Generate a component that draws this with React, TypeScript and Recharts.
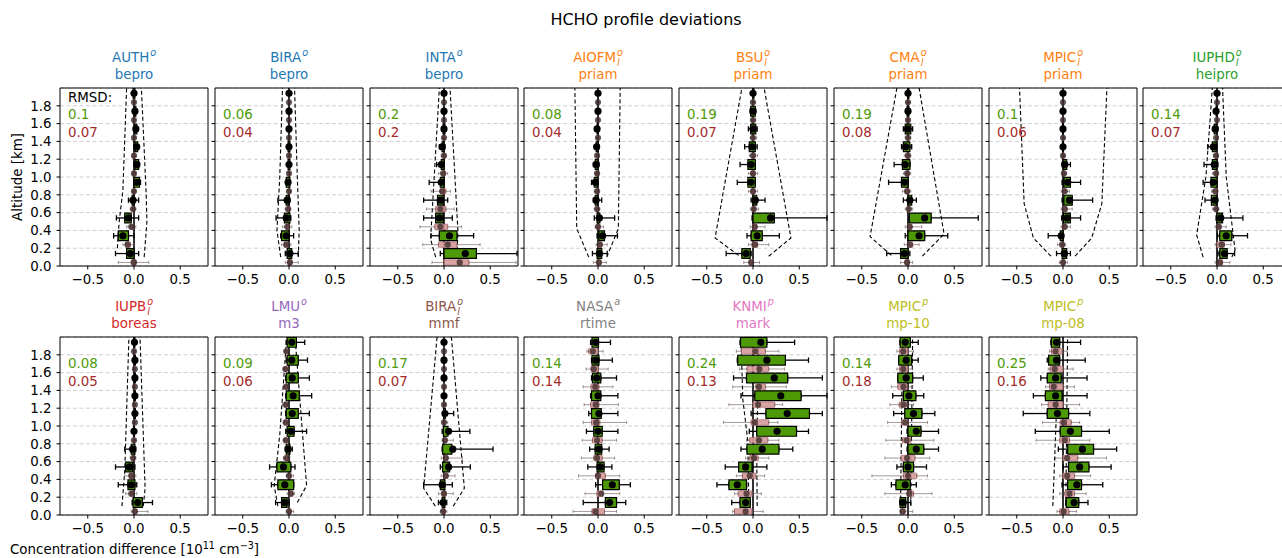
import React from "react";
import {
  ComposedChart,
  XAxis,
  YAxis,
  CartesianGrid,
  Scatter,
  ErrorBar,
  ReferenceArea,
  ReferenceLine,
} from "recharts";

// one box per altitude bin: [whisker low, q1, mean, q3, whisker high]
type Box = [number, number, number, number, number];
// envelope vertex: [altitude km, concentration difference]
type Vertex = [number, number];

const BIN_ALT = [0.1, 0.3, 0.5, 0.7, 0.9, 1.1, 1.3, 1.5, 1.7, 1.9];
const X_TICKS = [-0.5, 0, 0.5];
const Y_TICKS = [0, 0.2, 0.4, 0.6, 0.8, 1.0, 1.2, 1.4, 1.6, 1.8];

// ---- AUTH / bepro
const authGreen: Box[] = [
  [-0.2, -0.08, -0.04, 0.0, 0.05],
  [-0.22, -0.17, -0.12, -0.06, 0.0],
  [-0.19, -0.1, -0.06, -0.03, 0.05],
  [-0.06, -0.02, -0.01, 0.0, 0.05],
  [0.0, 0.0, 0.03, 0.06, 0.07],
  [0.0, 0.01, 0.03, 0.05, 0.06],
  [0.0, 0.01, 0.03, 0.04, 0.05],
  [0.0, 0.01, 0.02, 0.03, 0.04],
  [0.0, 0.0, 0.01, 0.02, 0.03],
  [-0.01, -0.01, 0.0, 0.01, 0.02],
];
const authPink: Box[] = [
  [-0.17, -0.03, 0.0, 0.02, 0.16],
  [-0.12, -0.09, -0.07, -0.04, 0.0],
  [-0.08, -0.04, -0.03, -0.01, 0.02],
  [-0.04, -0.02, -0.01, 0.0, 0.02],
  [-0.02, -0.01, 0.0, 0.01, 0.02],
  [-0.02, -0.01, 0.0, 0.01, 0.02],
  [-0.01, -0.01, 0.0, 0.01, 0.02],
  [-0.01, 0.0, 0.0, 0.01, 0.02],
  [-0.01, 0.0, 0.0, 0.01, 0.01],
  [-0.01, 0.0, 0.0, 0.01, 0.01],
];
const authLeft: Vertex[] = [[0.2, -0.18], [0.5, -0.16], [0.85, -0.12], [2.0, -0.08]];
const authRight: Vertex[] = [[0.1, 0.11], [0.5, 0.14], [0.85, 0.13], [2.0, 0.08]];

// ---- BIRA / bepro
const biraGreen: Box[] = [
  [-0.04, -0.02, 0.01, 0.03, 0.1],
  [-0.09, -0.08, -0.03, 0.0, 0.05],
  [-0.14, -0.05, -0.03, 0.01, 0.02],
  [-0.12, -0.03, -0.02, 0.0, 0.01],
  [-0.03, -0.03, -0.01, 0.01, 0.01],
  [-0.01, -0.01, 0.0, 0.01, 0.01],
  [-0.01, -0.01, 0.0, 0.01, 0.01],
  [-0.01, 0.0, 0.0, 0.0, 0.01],
  [-0.01, 0.0, 0.0, 0.0, 0.01],
  [-0.01, 0.0, 0.0, 0.0, 0.01],
];
const biraPink: Box[] = [
  [-0.04, -0.01, 0.01, 0.03, 0.1],
  [-0.08, -0.05, -0.03, -0.01, 0.02],
  [-0.07, -0.03, -0.02, 0.0, 0.03],
  [-0.04, -0.02, -0.01, 0.01, 0.02],
  [-0.02, -0.01, 0.0, 0.01, 0.02],
  [-0.01, -0.01, 0.0, 0.01, 0.01],
  [-0.01, -0.01, 0.0, 0.01, 0.01],
  [-0.01, 0.0, 0.0, 0.0, 0.01],
  [-0.01, 0.0, 0.0, 0.0, 0.01],
  [-0.01, 0.0, 0.0, 0.0, 0.01],
];
const biraLeft: Vertex[] = [[0.1, -0.09], [0.4, -0.13], [1.0, -0.1], [2.0, -0.07]];
const biraRight: Vertex[] = [[0.1, 0.1], [0.4, 0.11], [1.0, 0.09], [2.0, 0.06]];

// ---- INTA / bepro
const intaGreen: Box[] = [
  [-0.04, 0.0, 0.23, 0.35, 0.79],
  [-0.14, -0.05, 0.06, 0.14, 0.32],
  [-0.22, -0.09, -0.05, -0.01, 0.09],
  [-0.22, -0.07, -0.04, -0.01, 0.04],
  [-0.16, -0.04, -0.03, 0.0, 0.0],
  [-0.08, -0.03, -0.03, 0.0, 0.0],
  [-0.05, -0.02, -0.02, 0.0, 0.01],
  [-0.02, -0.01, 0.0, 0.01, 0.01],
  [-0.01, 0.0, 0.0, 0.0, 0.01],
  [-0.01, 0.0, 0.0, 0.0, 0.01],
];
const intaPink: Box[] = [
  [-0.13, 0.0, 0.17, 0.27, 0.78],
  [-0.23, -0.06, 0.04, 0.14, 0.39],
  [-0.26, -0.1, -0.04, 0.04, 0.19],
  [-0.19, -0.09, -0.04, 0.02, 0.11],
  [-0.14, -0.04, -0.02, 0.02, 0.07],
  [-0.06, -0.02, -0.01, 0.01, 0.04],
  [-0.03, -0.01, 0.0, 0.01, 0.02],
  [-0.02, -0.01, 0.0, 0.01, 0.01],
  [-0.01, 0.0, 0.0, 0.0, 0.01],
  [-0.01, 0.0, 0.0, 0.0, 0.01],
];
const intaLeft: Vertex[] = [[0.1, -0.09], [0.3, -0.145], [2.0, -0.05]];
const intaRight: Vertex[] = [[0.1, 0.14], [0.4, 0.15], [2.0, 0.065]];

// ---- AIOFM / priam
const aiofmGreen: Box[] = [
  [-0.06, -0.01, 0.015, 0.04, 0.1],
  [-0.01, 0.01, 0.05, 0.07, 0.21],
  [-0.04, -0.01, 0.015, 0.02, 0.18],
  [-0.05, -0.03, -0.02, 0.0, 0.04],
  [-0.07, -0.04, -0.03, -0.01, 0.0],
  [-0.05, -0.03, -0.02, 0.0, 0.01],
  [-0.03, -0.02, -0.015, 0.0, 0.01],
  [-0.02, -0.01, -0.01, 0.0, 0.01],
  [-0.01, 0.0, 0.0, 0.0, 0.01],
  [-0.01, 0.0, 0.0, 0.0, 0.01],
];
const aiofmPink: Box[] = [
  [-0.05, -0.01, 0.01, 0.03, 0.09],
  [-0.02, 0.0, 0.02, 0.04, 0.1],
  [-0.03, -0.01, 0.0, 0.02, 0.06],
  [-0.04, -0.02, -0.01, 0.0, 0.02],
  [-0.04, -0.02, -0.01, 0.0, 0.01],
  [-0.03, -0.02, -0.01, 0.0, 0.01],
  [-0.02, -0.01, -0.01, 0.0, 0.01],
  [-0.02, -0.01, 0.0, 0.0, 0.01],
  [-0.01, 0.0, 0.0, 0.0, 0.01],
  [-0.01, 0.0, 0.0, 0.0, 0.01],
];
const aiofmLeft: Vertex[] = [[0.1, -0.1], [0.42, -0.23], [2.0, -0.25]];
const aiofmRight: Vertex[] = [[0.1, 0.095], [0.42, 0.22], [2.0, 0.24]];

// ---- BSU / priam
const bsuGreen: Box[] = [
  [-0.29, -0.12, -0.075, -0.03, -0.02],
  [-0.065, -0.02, 0.045, 0.1, 0.285],
  [-0.01, 0.0, 0.19, 0.23, 0.8],
  [-0.02, 0.0, 0.025, 0.04, 0.13],
  [-0.17, -0.055, -0.02, 0.025, 0.025],
  [-0.14, -0.055, -0.02, 0.025, 0.025],
  [-0.09, -0.04, -0.01, 0.025, 0.045],
  [-0.05, -0.025, 0.0, 0.03, 0.045],
  [-0.03, -0.025, 0.0, 0.025, 0.03],
  [-0.01, 0.0, 0.0, 0.01, 0.01],
];
const bsuPink: Box[] = [
  [-0.1, -0.04, -0.02, 0.0, 0.07],
  [-0.05, -0.01, 0.02, 0.05, 0.17],
  [-0.03, 0.0, 0.02, 0.04, 0.13],
  [-0.03, -0.01, 0.01, 0.02, 0.06],
  [-0.05, -0.02, 0.0, 0.02, 0.05],
  [-0.05, -0.02, 0.0, 0.02, 0.05],
  [-0.04, -0.01, 0.0, 0.02, 0.05],
  [-0.03, -0.01, 0.0, 0.01, 0.04],
  [-0.02, -0.01, 0.0, 0.01, 0.03],
  [-0.02, 0.0, 0.0, 0.01, 0.02],
];
const bsuLeft: Vertex[] = [[0.12, -0.155], [0.315, -0.41], [2.0, -0.12]];
const bsuRight: Vertex[] = [[0.11, 0.17], [0.315, 0.41], [2.0, 0.12]];

// ---- CMA / priam
const cmaGreen: Box[] = [
  [-0.23, -0.08, -0.04, 0.0, 0.02],
  [-0.03, 0.0, 0.12, 0.18, 0.43],
  [0.015, 0.015, 0.18, 0.25, 0.76],
  [-0.05, 0.0, 0.02, 0.04, 0.09],
  [-0.21, -0.07, -0.04, 0.0, 0.0],
  [-0.15, -0.06, -0.03, 0.02, 0.02],
  [-0.07, -0.05, -0.025, 0.02, 0.04],
  [-0.05, -0.03, -0.005, 0.03, 0.05],
  [-0.02, -0.01, 0.0, 0.01, 0.02],
  [-0.01, 0.0, 0.0, 0.01, 0.01],
];
const cmaPink: Box[] = [
  [-0.08, -0.03, -0.01, 0.01, 0.05],
  [-0.04, 0.0, 0.02, 0.05, 0.12],
  [-0.03, 0.0, 0.02, 0.04, 0.15],
  [-0.03, -0.01, 0.01, 0.02, 0.05],
  [-0.06, -0.03, -0.01, 0.01, 0.03],
  [-0.05, -0.02, -0.01, 0.01, 0.03],
  [-0.04, -0.02, 0.0, 0.01, 0.03],
  [-0.03, -0.01, 0.0, 0.01, 0.03],
  [-0.02, -0.01, 0.0, 0.01, 0.02],
  [-0.02, 0.0, 0.0, 0.01, 0.02],
];
const cmaLeft: Vertex[] = [[0.12, -0.18], [0.33, -0.41], [2.0, -0.12]];
const cmaRight: Vertex[] = [[0.11, 0.155], [0.36, 0.39], [2.0, 0.12]];

// ---- MPIC / priam
const mpicGreen: Box[] = [
  [-0.07, -0.01, 0.015, 0.04, 0.08],
  [-0.16, -0.03, -0.02, 0.0, 0.005],
  [-0.015, 0.005, 0.045, 0.08, 0.19],
  [-0.01, 0.01, 0.07, 0.1, 0.32],
  [-0.01, 0.01, 0.05, 0.08, 0.19],
  [-0.01, 0.0, 0.02, 0.04, 0.08],
  [-0.01, -0.005, 0.0, 0.005, 0.01],
  [-0.01, -0.005, 0.0, 0.005, 0.01],
  [-0.01, 0.0, 0.0, 0.0, 0.01],
  [-0.01, 0.0, 0.0, 0.0, 0.01],
];
const mpicPink: Box[] = [
  [-0.04, -0.01, 0.0, 0.02, 0.05],
  [-0.06, -0.02, -0.01, 0.01, 0.03],
  [-0.02, 0.0, 0.02, 0.03, 0.08],
  [-0.02, 0.0, 0.02, 0.04, 0.1],
  [-0.02, 0.0, 0.02, 0.03, 0.07],
  [-0.01, 0.0, 0.01, 0.02, 0.04],
  [-0.01, 0.0, 0.0, 0.01, 0.02],
  [-0.01, 0.0, 0.0, 0.01, 0.02],
  [-0.01, 0.0, 0.0, 0.0, 0.01],
  [-0.01, 0.0, 0.0, 0.0, 0.01],
];
const mpicLeft: Vertex[] = [[0.11, -0.13], [0.315, -0.32], [0.7, -0.42], [2.0, -0.47]];
const mpicRight: Vertex[] = [[0.11, 0.13], [0.315, 0.31], [0.7, 0.42], [2.0, 0.475]];

// ---- IUPHD / heipro
const iuphdGreen: Box[] = [
  [0.01, 0.03, 0.08, 0.11, 0.19],
  [0.005, 0.03, 0.1, 0.16, 0.33],
  [-0.01, 0.0, 0.04, 0.06, 0.28],
  [-0.13, -0.06, -0.02, 0.0, 0.0],
  [-0.15, -0.065, -0.04, 0.0, 0.0],
  [-0.14, -0.05, -0.03, 0.0, 0.01],
  [-0.1, -0.05, -0.04, -0.01, 0.0],
  [-0.04, -0.03, -0.02, 0.0, 0.01],
  [-0.02, -0.01, -0.01, 0.0, 0.0],
  [-0.01, 0.0, 0.0, 0.0, 0.01],
];
const iuphdPink: Box[] = [
  [-0.02, 0.01, 0.03, 0.06, 0.14],
  [-0.02, 0.0, 0.05, 0.08, 0.15],
  [-0.02, 0.0, 0.02, 0.04, 0.1],
  [-0.05, -0.02, -0.01, 0.0, 0.02],
  [-0.06, -0.03, -0.02, 0.0, 0.01],
  [-0.05, -0.02, -0.01, 0.0, 0.01],
  [-0.04, -0.02, -0.01, 0.0, 0.01],
  [-0.02, -0.01, -0.01, 0.0, 0.01],
  [-0.01, -0.01, 0.0, 0.0, 0.01],
  [-0.01, 0.0, 0.0, 0.0, 0.01],
];
const iuphdLeft: Vertex[] = [[0.1, -0.15], [0.35, -0.22], [1.0, -0.12], [2.0, -0.05]];
const iuphdRight: Vertex[] = [[0.1, 0.16], [0.18, 0.195], [1.0, 0.1], [2.0, 0.06]];

// ---- IUPB / boreas
const iupbGreen: Box[] = [
  [-0.02, -0.01, 0.04, 0.09, 0.2],
  [-0.17, -0.065, -0.03, 0.01, 0.03],
  [-0.2, -0.09, -0.05, -0.015, 0.01],
  [-0.1, -0.03, -0.015, 0.01, 0.02],
  [-0.01, -0.005, 0.0, 0.005, 0.01],
  [0.0, 0.005, 0.01, 0.015, 0.02],
  [0.0, 0.005, 0.01, 0.015, 0.02],
  [0.0, 0.005, 0.01, 0.015, 0.02],
  [0.0, 0.005, 0.01, 0.015, 0.02],
  [0.0, 0.0, 0.005, 0.01, 0.02],
];
const iupbPink: Box[] = [
  [-0.03, 0.0, 0.01, 0.03, 0.15],
  [-0.09, -0.04, -0.03, -0.01, 0.03],
  [-0.1, -0.05, -0.03, -0.01, 0.02],
  [-0.04, -0.02, -0.01, 0.0, 0.02],
  [-0.02, -0.01, 0.0, 0.01, 0.02],
  [-0.01, 0.0, 0.01, 0.01, 0.02],
  [-0.01, 0.0, 0.01, 0.01, 0.02],
  [-0.01, 0.0, 0.01, 0.01, 0.02],
  [-0.01, 0.0, 0.01, 0.01, 0.02],
  [-0.01, 0.0, 0.0, 0.01, 0.02],
];
const iupbLeft: Vertex[] = [[0.1, -0.13], [0.5, -0.1], [2.0, -0.055]];
const iupbRight: Vertex[] = [[0.1, 0.1], [0.3, 0.12], [2.0, 0.065]];

// ---- LMU / m3
const lmuGreen: Box[] = [
  [-0.145, -0.08, -0.05, -0.02, 0.0],
  [-0.19, -0.12, -0.045, 0.05, 0.05],
  [-0.21, -0.13, -0.06, 0.02, 0.065],
  [-0.04, -0.03, -0.01, 0.01, 0.035],
  [-0.035, -0.02, 0.02, 0.055, 0.19],
  [-0.035, -0.03, 0.035, 0.1, 0.22],
  [-0.035, -0.03, 0.045, 0.11, 0.245],
  [-0.035, -0.03, 0.035, 0.1, 0.22],
  [-0.03, -0.02, 0.03, 0.1, 0.2],
  [-0.03, -0.02, 0.03, 0.08, 0.17],
];
const lmuPink: Box[] = [
  [-0.03, -0.01, 0.0, 0.02, 0.05],
  [-0.02, 0.0, 0.02, 0.04, 0.06],
  [-0.03, -0.01, 0.0, 0.02, 0.05],
  [-0.06, -0.04, -0.03, -0.01, 0.01],
  [-0.06, -0.05, -0.035, -0.02, 0.0],
  [-0.06, -0.05, -0.035, -0.02, 0.0],
  [-0.07, -0.05, -0.035, -0.02, 0.0],
  [-0.06, -0.05, -0.03, -0.02, 0.0],
  [-0.06, -0.05, -0.04, -0.02, 0.0],
  [-0.05, -0.04, -0.03, -0.02, 0.0],
];
const lmuLeft: Vertex[] = [[0.1, -0.12], [0.33, -0.16], [0.9, -0.1], [2.0, -0.025]];
const lmuRight: Vertex[] = [[0.14, 0.09], [0.33, 0.19], [2.0, 0.065]];

// ---- BIRA / mmf
const mmfGreen: Box[] = [
  [-0.06, -0.02, -0.01, 0.01, 0.03],
  [-0.22, -0.04, -0.02, 0.01, 0.09],
  [-0.04, -0.015, 0.05, 0.06, 0.285],
  [-0.02, -0.015, 0.095, 0.085, 0.53],
  [-0.02, -0.007, 0.05, 0.043, 0.28],
  [-0.015, -0.005, 0.01, 0.015, 0.105],
  [-0.01, 0.0, 0.0, 0.0, 0.01],
  [-0.01, 0.0, 0.0, 0.0, 0.01],
  [-0.01, 0.0, 0.0, 0.0, 0.01],
  [-0.01, 0.0, 0.0, 0.0, 0.01],
];
const mmfPink: Box[] = [
  [-0.04, -0.02, -0.01, 0.01, 0.03],
  [-0.06, -0.02, 0.0, 0.02, 0.1],
  [-0.03, 0.0, 0.02, 0.04, 0.12],
  [-0.03, 0.0, 0.02, 0.04, 0.2],
  [-0.02, 0.0, 0.01, 0.03, 0.1],
  [-0.02, 0.0, 0.0, 0.01, 0.04],
  [-0.01, 0.0, 0.0, 0.01, 0.02],
  [-0.01, 0.0, 0.0, 0.01, 0.02],
  [-0.01, 0.0, 0.0, 0.0, 0.01],
  [-0.01, 0.0, 0.0, 0.0, 0.01],
];
const mmfLeft: Vertex[] = [[0.1, -0.094], [0.3, -0.22], [2.0, -0.075]];
const mmfRight: Vertex[] = [[0.1, 0.1], [0.3, 0.22], [2.0, 0.08]];

// ---- NASA / rtime
const nasaGreen: Box[] = [
  [-0.16, 0.08, 0.125, 0.2, 0.3],
  [-0.025, 0.05, 0.155, 0.23, 0.35],
  [-0.11, -0.01, 0.025, 0.065, 0.15],
  [-0.09, -0.03, 0.01, 0.04, 0.12],
  [-0.125, -0.045, 0.0, 0.045, 0.215],
  [-0.1, -0.07, 0.01, 0.035, 0.215],
  [-0.08, -0.07, 0.0, 0.03, 0.215],
  [-0.07, -0.06, -0.015, 0.03, 0.2],
  [-0.07, -0.065, -0.025, 0.01, 0.155],
  [-0.08, -0.065, -0.025, 0.005, 0.135],
];
const nasaPink: Box[] = [
  [-0.27, -0.065, -0.025, 0.07, 0.2],
  [-0.14, -0.01, 0.035, 0.05, 0.235],
  [-0.21, -0.025, 0.0, 0.08, 0.235],
  [-0.18, -0.045, -0.01, 0.045, 0.18],
  [-0.17, -0.06, -0.01, 0.045, 0.2],
  [-0.16, -0.07, -0.02, 0.02, 0.31],
  [-0.15, -0.08, -0.025, 0.01, 0.22],
  [-0.16, -0.075, -0.03, 0.01, 0.16],
  [-0.13, -0.075, -0.045, 0.005, 0.11],
  [-0.12, -0.1, -0.055, 0.0, 0.055],
];

// ---- KNMI / mark
const knmiGreen: Box[] = [
  [-0.23, -0.14, -0.08, -0.03, -0.03],
  [-0.39, -0.26, -0.17, -0.07, -0.07],
  [-0.3, -0.155, -0.08, -0.01, 0.15],
  [-0.13, -0.065, 0.1, 0.28, 0.43],
  [-0.04, 0.04, 0.26, 0.47, 0.6],
  [-0.02, 0.14, 0.37, 0.61, 0.75],
  [-0.13, 0.02, 0.3, 0.52, 0.8],
  [-0.21, -0.07, 0.23, 0.375, 0.75],
  [-0.17, -0.165, 0.15, 0.35, 0.6],
  [-0.14, -0.135, 0.085, 0.15, 0.45],
];
const knmiPink: Box[] = [
  [-0.22, -0.2, -0.08, -0.01, 0.11],
  [-0.2, -0.16, -0.07, -0.01, 0.09],
  [-0.18, -0.115, -0.035, 0.03, 0.125],
  [-0.08, -0.035, 0.01, 0.055, 0.17],
  [-0.07, -0.035, 0.065, 0.16, 0.28],
  [-0.32, -0.02, 0.02, 0.17, 0.27],
  [-0.26, 0.0, 0.055, 0.235, 0.32],
  [-0.22, 0.03, 0.065, 0.135, 0.36],
  [-0.145, -0.065, 0.07, 0.17, 0.34],
  [-0.18, -0.125, 0.025, 0.135, 0.28],
];
const knmiLeft: Vertex[] = [[0.1, -0.045], [0.82, -0.055], [1.3, -0.11], [2.0, -0.13]];
const knmiRight: Vertex[] = [[0.1, 0.045], [0.7, 0.04], [2.0, 0.06]];

// ---- MPIC / mp-10
const mp10Green: Box[] = [
  [-0.085, -0.085, -0.055, -0.025, 0.03],
  [-0.18, -0.13, -0.03, 0.025, 0.09],
  [-0.12, -0.05, 0.0, 0.06, 0.2],
  [-0.01, 0.0, 0.09, 0.17, 0.33],
  [-0.01, 0.0, 0.09, 0.14, 0.33],
  [-0.155, -0.035, 0.06, 0.15, 0.29],
  [-0.165, -0.05, 0.01, 0.085, 0.17],
  [-0.11, -0.11, -0.02, 0.05, 0.165],
  [-0.1, -0.1, -0.02, 0.04, 0.11],
  [-0.085, -0.085, -0.03, 0.025, 0.11],
];
const mp10Pink: Box[] = [
  [-0.08, -0.08, -0.06, -0.03, 0.05],
  [-0.25, -0.01, 0.015, 0.06, 0.26],
  [-0.39, -0.05, 0.0, 0.095, 0.21],
  [-0.25, -0.075, -0.01, 0.075, 0.235],
  [-0.24, -0.06, -0.015, 0.03, 0.28],
  [-0.22, -0.07, -0.03, 0.0, 0.21],
  [-0.195, -0.095, -0.05, -0.015, 0.06],
  [-0.18, -0.11, -0.05, -0.01, 0.05],
  [-0.12, -0.09, -0.05, 0.0, 0.05],
  [-0.12, -0.09, -0.05, 0.0, 0.06],
];
const mp10Left: Vertex[] = [[0.1, -0.08], [2.0, -0.06]];
const mp10Right: Vertex[] = [[0.1, 0.03], [2.0, 0.05]];

// ---- MPIC / mp-08
const mp08Green: Box[] = [
  [0.03, 0.035, 0.12, 0.17, 0.27],
  [-0.01, 0.05, 0.15, 0.2, 0.43],
  [0.0, 0.06, 0.18, 0.28, 0.52],
  [-0.05, 0.05, 0.21, 0.33, 0.58],
  [-0.3, -0.03, 0.08, 0.2, 0.5],
  [-0.43, -0.17, -0.06, 0.06, 0.29],
  [-0.32, -0.19, -0.08, -0.01, 0.26],
  [-0.24, -0.17, -0.08, -0.02, 0.26],
  [-0.17, -0.155, -0.07, -0.036, 0.24],
  [-0.13, -0.126, -0.07, -0.036, 0.19],
];
const mp08Pink: Box[] = [
  [-0.065, -0.035, 0.007, 0.065, 0.145],
  [-0.035, 0.02, 0.07, 0.125, 0.25],
  [-0.035, 0.0, 0.045, 0.125, 0.3],
  [-0.08, 0.0, 0.045, 0.16, 0.47],
  [-0.29, -0.035, 0.02, 0.07, 0.29],
  [-0.22, -0.03, 0.01, 0.09, 0.18],
  [-0.23, -0.16, -0.08, 0.0, 0.18],
  [-0.19, -0.145, -0.1, 0.0, 0.125],
  [-0.16, -0.14, -0.09, 0.0, 0.11],
  [-0.145, -0.125, -0.08, -0.007, 0.045],
];
const mp08Left: Vertex[] = [[0.1, -0.11], [2.0, -0.04]];
const mp08Right: Vertex[] = [[0.1, 0.03], [2.0, 0.05]];

const BLUE = "#1f77b4";
const ORANGE = "#ff7f0e";
const GREEN = "#2ca02c";
const RED = "#d62728";
const PURPLE = "#9467bd";
const BROWN = "#8c564b";
const PINK = "#e377c2";
const GRAY = "#7f7f7f";
const OLIVE = "#bcbd22";

type PanelDef = {
  name: string;
  sup: string;
  sub?: string;
  algo: string;
  color: string;
  green: Box[];
  pink: Box[];
  left?: Vertex[];
  right?: Vertex[];
  rmsd: [number, number];
};

const topRow: PanelDef[] = [
  { name: "AUTH", sup: "o", algo: "bepro", color: BLUE, green: authGreen, pink: authPink, left: authLeft, right: authRight, rmsd: [0.1, 0.07] },
  { name: "BIRA", sup: "o", algo: "bepro", color: BLUE, green: biraGreen, pink: biraPink, left: biraLeft, right: biraRight, rmsd: [0.06, 0.04] },
  { name: "INTA", sup: "o", algo: "bepro", color: BLUE, green: intaGreen, pink: intaPink, left: intaLeft, right: intaRight, rmsd: [0.2, 0.2] },
  { name: "AIOFM", sup: "o", sub: "l", algo: "priam", color: ORANGE, green: aiofmGreen, pink: aiofmPink, left: aiofmLeft, right: aiofmRight, rmsd: [0.08, 0.04] },
  { name: "BSU", sup: "o", sub: "l", algo: "priam", color: ORANGE, green: bsuGreen, pink: bsuPink, left: bsuLeft, right: bsuRight, rmsd: [0.19, 0.07] },
  { name: "CMA", sup: "o", sub: "l", algo: "priam", color: ORANGE, green: cmaGreen, pink: cmaPink, left: cmaLeft, right: cmaRight, rmsd: [0.19, 0.08] },
  { name: "MPIC", sup: "o", sub: "l", algo: "priam", color: ORANGE, green: mpicGreen, pink: mpicPink, left: mpicLeft, right: mpicRight, rmsd: [0.1, 0.06] },
  { name: "IUPHD", sup: "o", sub: "l", algo: "heipro", color: GREEN, green: iuphdGreen, pink: iuphdPink, left: iuphdLeft, right: iuphdRight, rmsd: [0.14, 0.07] },
];

const bottomRow: PanelDef[] = [
  { name: "IUPB", sup: "o", sub: "l", algo: "boreas", color: RED, green: iupbGreen, pink: iupbPink, left: iupbLeft, right: iupbRight, rmsd: [0.08, 0.05] },
  { name: "LMU", sup: "o", algo: "m3", color: PURPLE, green: lmuGreen, pink: lmuPink, left: lmuLeft, right: lmuRight, rmsd: [0.09, 0.06] },
  { name: "BIRA", sup: "o", sub: "l", algo: "mmf", color: BROWN, green: mmfGreen, pink: mmfPink, left: mmfLeft, right: mmfRight, rmsd: [0.17, 0.07] },
  { name: "NASA", sup: "a", algo: "rtime", color: GRAY, green: nasaGreen, pink: nasaPink, rmsd: [0.14, 0.14] },
  { name: "KNMI", sup: "p", algo: "mark", color: PINK, green: knmiGreen, pink: knmiPink, left: knmiLeft, right: knmiRight, rmsd: [0.24, 0.13] },
  { name: "MPIC", sup: "p", algo: "mp-10", color: OLIVE, green: mp10Green, pink: mp10Pink, left: mp10Left, right: mp10Right, rmsd: [0.14, 0.18] },
  { name: "MPIC", sup: "p", algo: "mp-08", color: OLIVE, green: mp08Green, pink: mp08Pink, left: mp08Left, right: mp08Right, rmsd: [0.25, 0.16] },
];

// layout of the axes grid
const PW = 148;
const PH = 178;
const Y_W = 50;
const PAD_T = 6;
const PAD_R = 6;
const X_H = 30;
const ROW_TOP = [88, 337];
const colLeft = (i: number) => Math.round(60 + 154.75 * i);

// box drawing
const GREEN_SHIFT = 0.04;
const PINK_SHIFT = -0.06;
const GREEN_HALF = 0.055;
const PINK_HALF = 0.03;
const BOX_GREEN = "#4e9a06";
const TXT_GREEN = "#4e9a06";
const TXT_BROWN = "#a52a2a";
const PINK_FILL = "#d69a9a";
const PINK_EDGE = "#b87676";
const PINK_WHISKER = "rgba(95,70,70,0.55)";
const PINK_DOT = "rgba(55,38,38,0.75)";

const FONT = "'DejaVu Sans', sans-serif";
const FS = 13.4;

const fmtX = (v: number) => (v < 0 ? "\u2212" : "") + Math.abs(v).toFixed(1);
const fmtY = (v: number) => v.toFixed(1);
const blank = () => "";
const noShape = () => <g />;
const blackDot = (p: any) => <circle cx={p.cx} cy={p.cy} r={3.6} fill="#000" />;
const pinkDot = (p: any) => <circle cx={p.cx} cy={p.cy} r={3.1} fill={PINK_DOT} />;

function rows(boxes: Box[], shift: number) {
  return boxes.map((b, i) => ({
    lo: b[0],
    q1: b[1],
    mean: b[2],
    q3: b[3],
    hi: b[4],
    y: BIN_ALT[i] + shift,
  }));
}

// whiskers hang off the box edges, so they never run through a box
function whiskers(rs: ReturnType<typeof rows>) {
  return rs.flatMap((r) => [
    { x: r.q1, y: r.y, e: [r.q1 - r.lo, 0] },
    { x: r.q3, y: r.y, e: [0, r.hi - r.q3] },
  ]);
}

function Tag({ name, sup, sub }: { name: string; sup: string; sub?: string }) {
  return (
    <span>
      {name}
      <span style={{ position: "relative", display: "inline-block", width: "0.5em", height: "1em" }}>
        <i style={{ position: "absolute", left: 1, top: "-0.5em", fontSize: "0.72em" }}>{sup}</i>
        {sub && <i style={{ position: "absolute", left: 1, top: "0.55em", fontSize: "0.72em" }}>{sub}</i>}
      </span>
    </span>
  );
}

function Panel({ d, col, row }: { d: PanelDef; col: number; row: number }) {
  const left = colLeft(col);
  const top = ROW_TOP[row];
  const g = rows(d.green, GREEN_SHIFT);
  const p = rows(d.pink, PINK_SHIFT);
  const first = col === 0;

  return (
    <>
      <div style={{ position: "absolute", left: left - Y_W, top: top - PAD_T }}>
        <ComposedChart
          width={Y_W + PW + PAD_R}
          height={PAD_T + PH + X_H}
          margin={{ top: PAD_T, right: PAD_R, bottom: 0, left: 0 }}
        >
          <CartesianGrid vertical={false} stroke="#cfcfcf" strokeDasharray="4 2.5" />
          <XAxis
            type="number"
            dataKey="x"
            domain={[-0.8, 0.8]}
            allowDataOverflow
            ticks={X_TICKS}
            interval={0}
            tickFormatter={fmtX}
            height={X_H}
            tickSize={3.5}
            tickMargin={5}
            axisLine={false}
            tickLine={{ stroke: "#000" }}
            tick={{ fill: "#000", fontSize: FS }}
          />
          <YAxis
            type="number"
            dataKey="y"
            domain={[0, 2]}
            allowDataOverflow
            ticks={Y_TICKS}
            interval={0}
            width={Y_W}
            tickFormatter={first ? fmtY : blank}
            tickSize={3.5}
            tickMargin={5}
            axisLine={false}
            tickLine={{ stroke: "#000" }}
            tick={{ fill: "#000", fontSize: FS }}
          />
          <ReferenceLine x={0} stroke="#000" strokeWidth={1.6} zIndex={60} />
          {d.left && (
            <Scatter
              data={d.left.map(([a, x]) => ({ x, y: a }))}
              line={{ stroke: "#000", strokeWidth: 1.1, strokeDasharray: "4 2.5" }}
              lineType="joint"
              shape={noShape}
              isAnimationActive={false}
              zIndex={70}
            />
          )}
          {d.right && (
            <Scatter
              data={d.right.map(([a, x]) => ({ x, y: a }))}
              line={{ stroke: "#000", strokeWidth: 1.1, strokeDasharray: "4 2.5" }}
              lineType="joint"
              shape={noShape}
              isAnimationActive={false}
              zIndex={70}
            />
          )}
          {p.map((r, i) => (
            <ReferenceArea
              key={`p${i}`}
              x1={r.q1}
              x2={r.q3}
              y1={r.y - PINK_HALF}
              y2={r.y + PINK_HALF}
              fill={PINK_FILL}
              fillOpacity={0.9}
              stroke={PINK_EDGE}
              strokeWidth={0.8}
              ifOverflow="hidden"
              zIndex={80}
            />
          ))}
          <Scatter data={whiskers(p)} shape={noShape} isAnimationActive={false} zIndex={90}>
            <ErrorBar dataKey="e" direction="x" width={1.6} stroke={PINK_WHISKER} strokeWidth={1} isAnimationActive={false} zIndex={90} />
          </Scatter>
          <Scatter data={p.map((r) => ({ x: r.mean, y: r.y }))} shape={pinkDot} isAnimationActive={false} zIndex={95} />
          <Scatter data={whiskers(g)} shape={noShape} isAnimationActive={false} zIndex={100}>
            <ErrorBar dataKey="e" direction="x" width={2.7} stroke="#000" strokeWidth={1.3} isAnimationActive={false} zIndex={100} />
          </Scatter>
          {g.map((r, i) => (
            <ReferenceArea
              key={`g${i}`}
              x1={r.q1}
              x2={r.q3}
              y1={r.y - GREEN_HALF}
              y2={r.y + GREEN_HALF}
              fill={BOX_GREEN}
              fillOpacity={1}
              stroke="#000"
              strokeWidth={1.2}
              ifOverflow="hidden"
              zIndex={110}
            />
          ))}
          <Scatter data={g.map((r) => ({ x: r.mean, y: r.y }))} shape={blackDot} isAnimationActive={false} zIndex={120} />
          <ReferenceArea x1={-0.8} x2={0.8} y1={0} y2={2} fill="none" stroke="#000" strokeWidth={1} ifOverflow="visible" zIndex={130} />
        </ComposedChart>
      </div>
      <div
        style={{
          position: "absolute",
          left,
          width: PW,
          top: top - 39,
          textAlign: "center",
          fontSize: FS,
          lineHeight: "17px",
          color: d.color,
          whiteSpace: "nowrap",
        }}
      >
        <div>
          <Tag name={d.name} sup={d.sup} sub={d.sub} />
        </div>
        <div>{d.algo}</div>
      </div>
      {first && row === 0 && (
        <div style={{ position: "absolute", left: left + 8, top: top + 1, fontSize: FS, lineHeight: "17px", color: "#000" }}>
          RMSD:
        </div>
      )}
      <div style={{ position: "absolute", left: left + 8, top: top + 18, fontSize: FS, lineHeight: "17px", color: TXT_GREEN }}>
        {String(d.rmsd[0])}
      </div>
      <div style={{ position: "absolute", left: left + 8, top: top + 36, fontSize: FS, lineHeight: "17px", color: TXT_BROWN }}>
        {String(d.rmsd[1])}
      </div>
    </>
  );
}

export default function App() {
  return (
    <div
      style={{
        position: "absolute",
        left: 0,
        top: 0,
        width: 1282,
        height: 558,
        overflow: "hidden",
        background: "#fff",
        fontFamily: FONT,
        color: "#000",
      }}
    >
      <div style={{ position: "absolute", left: 5, top: 10, width: 1282, textAlign: "center", fontSize: 16, lineHeight: "20px" }}>
        HCHO profile deviations
      </div>
      <div
        style={{
          position: "absolute",
          left: 17,
          top: 177,
          transform: "translate(-50%, -50%) rotate(-90deg)",
          fontSize: FS,
          whiteSpace: "nowrap",
        }}
      >
        Altitude [km]
      </div>
      {topRow.map((d, i) => (
        <Panel key={`t${i}`} d={d} col={i} row={0} />
      ))}
      {bottomRow.map((d, i) => (
        <Panel key={`b${i}`} d={d} col={i} row={1} />
      ))}
      <div style={{ position: "absolute", left: 10, top: 541, fontSize: FS, lineHeight: "18px", whiteSpace: "nowrap" }}>
        Concentration difference [10<sup style={{ fontSize: "0.72em", lineHeight: 0 }}>11</sup> cm
        <sup style={{ fontSize: "0.72em", lineHeight: 0 }}>{"\u22123"}</sup>]
      </div>
    </div>
  );
}
